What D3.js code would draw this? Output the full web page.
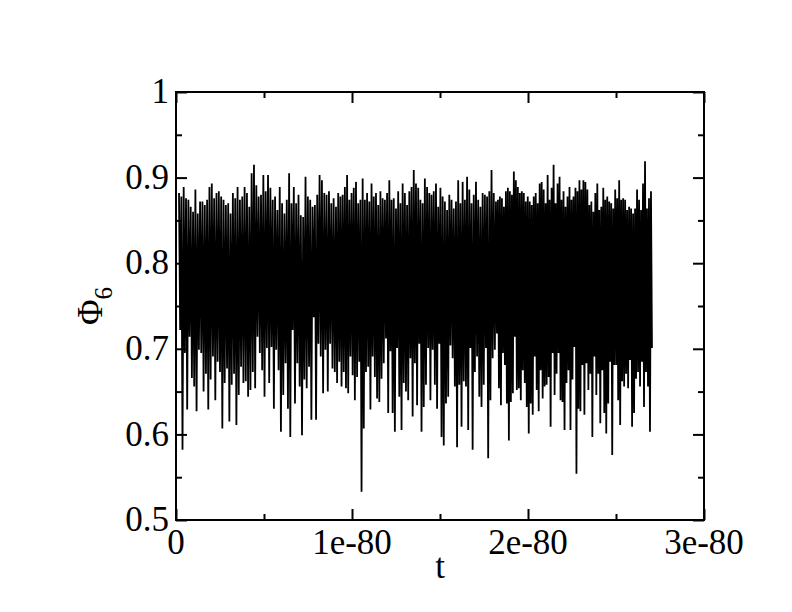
<!DOCTYPE html>
<html>
<head>
<meta charset="utf-8">
<script src="https://cdn.jsdelivr.net/npm/d3@7"></script>
<style>
  body { margin: 0; background: #fff; }
  text { font-family: "Liberation Serif", "Times New Roman", serif; fill: #000; }
</style>
</head>
<body>
<div id="chart"></div>
<script>
// upper spike tips, left to right, in three stretches of t
const peaks1 = [
  0.882, 0.878, 0.889, 0.876, 0.874, 0.866, 0.860, 0.886, 0.858, 0.872,
  0.872, 0.868, 0.874, 0.889, 0.893, 0.876, 0.882, 0.884, 0.878, 0.874, 0.868,
  0.870, 0.858, 0.882, 0.876, 0.889, 0.874, 0.878, 0.889, 0.882, 0.866, 0.905,
  0.915, 0.891, 0.878, 0.880, 0.903, 0.884, 0.903, 0.888, 0.874, 0.878,
  0.862, 0.889, 0.870, 0.858, 0.874, 0.905, 0.870, 0.889, 0.870, 0.880, 0.856,
  0.854, 0.901, 0.878, 0.874, 0.866, 0.868, 0.880, 0.903, 0.897, 0.882,
  0.880, 0.884, 0.870, 0.876
];
const peaks2 = [
  0.866, 0.882, 0.878, 0.880, 0.889, 0.903, 0.874, 0.882, 0.888, 0.895,
  0.870, 0.874, 0.899, 0.874, 0.882, 0.872, 0.893, 0.878, 0.882, 0.868, 0.884,
  0.876, 0.874, 0.882, 0.897, 0.874, 0.876, 0.864, 0.884, 0.870, 0.893, 0.882,
  0.868, 0.884, 0.889, 0.909, 0.893, 0.888, 0.874, 0.870, 0.899, 0.889, 0.882,
  0.880, 0.884, 0.893, 0.866, 0.888, 0.878, 0.872, 0.862, 0.880, 0.874, 0.864,
  0.872, 0.897, 0.870, 0.895, 0.874, 0.901, 0.886, 0.870, 0.880, 0.895, 0.874,
  0.866, 0.882, 0.880, 0.878, 0.884, 0.909, 0.882
];
const peaks3 = [
  0.872, 0.874, 0.878, 0.876, 0.866, 0.884, 0.888, 0.884, 0.880, 0.907,
  0.897, 0.889, 0.882, 0.884, 0.882, 0.872, 0.878, 0.872, 0.868, 0.878,
  0.882, 0.870, 0.893, 0.895, 0.886, 0.870, 0.903, 0.874, 0.888, 0.915,
  0.870, 0.893, 0.901, 0.874, 0.884, 0.866, 0.878, 0.889, 0.874, 0.878, 0.888,
  0.884, 0.897, 0.886, 0.897, 0.895, 0.886, 0.868, 0.872, 0.860, 0.882,
  0.893, 0.862, 0.866, 0.888, 0.874, 0.878, 0.872, 0.870, 0.864, 0.886,
  0.876, 0.897, 0.874, 0.876, 0.874, 0.862, 0.866, 0.864, 0.858, 0.864, 0.886,
  0.874, 0.862, 0.893, 0.919, 0.864, 0.876, 0.884
];

// lower spike tips, same three stretches
const troughs1 = [
  0.722, 0.582, 0.695, 0.629, 0.714, 0.666, 0.656, 0.627, 0.699, 0.695,
  0.650, 0.671, 0.629, 0.664, 0.691, 0.640, 0.685, 0.673, 0.607, 0.660,
  0.677, 0.615, 0.658, 0.671, 0.611, 0.646, 0.679, 0.660, 0.662, 0.644,
  0.652, 0.673, 0.654, 0.714, 0.695, 0.675, 0.644, 0.701, 0.660, 0.702,
  0.630, 0.699, 0.675, 0.603, 0.646, 0.683, 0.630, 0.597, 0.722, 0.636,
  0.683, 0.656, 0.599, 0.664, 0.654, 0.679, 0.617, 0.737, 0.617, 0.706,
  0.691, 0.648, 0.699, 0.650, 0.706, 0.677, 0.673
];
const troughs2 = [
  0.660, 0.685, 0.656, 0.673, 0.654, 0.648, 0.691, 0.669, 0.640, 0.667,
  0.685, 0.533, 0.607, 0.673, 0.679, 0.629, 0.691, 0.667, 0.642, 0.638,
  0.665, 0.683, 0.712, 0.625, 0.697, 0.625, 0.603, 0.701, 0.644, 0.605,
  0.660, 0.650, 0.640, 0.689, 0.621, 0.683, 0.634, 0.706, 0.603, 0.632,
  0.658, 0.701, 0.640, 0.699, 0.658, 0.630, 0.706, 0.597, 0.587, 0.636,
  0.644, 0.704, 0.689, 0.656, 0.585, 0.658, 0.609, 0.662, 0.656, 0.605,
  0.701, 0.582, 0.673, 0.691, 0.644, 0.632, 0.658, 0.701, 0.572, 0.640,
  0.689, 0.699
];
const troughs3 = [
  0.718, 0.654, 0.634, 0.695, 0.681, 0.636, 0.593, 0.638, 0.648, 0.714,
  0.652, 0.654, 0.640, 0.675, 0.660, 0.632, 0.601, 0.636, 0.623, 0.691,
  0.652, 0.627, 0.675, 0.642, 0.656, 0.658, 0.667, 0.609, 0.695, 0.646,
  0.671, 0.695, 0.640, 0.638, 0.605, 0.660, 0.675, 0.605, 0.664, 0.702,
  0.554, 0.630, 0.627, 0.681, 0.623, 0.683, 0.652, 0.671, 0.597, 0.691,
  0.646, 0.671, 0.613, 0.675, 0.625, 0.601, 0.636, 0.685, 0.576, 0.681,
  0.681, 0.640, 0.611, 0.662, 0.656, 0.671, 0.654, 0.687, 0.609, 0.625,
  0.665, 0.673, 0.656, 0.685, 0.632, 0.673, 0.656, 0.603, 0.701
];

// t at the edges of the three stretches
const tBreaks = [0.017e-80, 0.909e-80, 1.818e-80, 2.71e-80];

const xTicks = [0, 1e-80, 2e-80, 3e-80];
const xTickLabels = ["0", "1e-80", "2e-80", "3e-80"];
const xMinor = [0.5e-80, 1.5e-80, 2.5e-80];
const yTicks = [0.5, 0.6, 0.7, 0.8, 0.9, 1];
const yTickLabels = ["0.5", "0.6", "0.7", "0.8", "0.9", "1"];
const yMinor = [0.55, 0.65, 0.75, 0.85, 0.95];

const margin = {top: 92, right: 88, bottom: 92, left: 176};
const width = 792 - margin.left - margin.right;
const height = 612 - margin.top - margin.bottom;

// alternate peak / trough within each stretch, evenly spaced in t
function stretch(hi, lo, t0, t1) {
  const n = hi.length;
  const step = (t1 - t0) / (2 * n);
  const out = [];
  for (let i = 0; i < n; i++) {
    out.push({t: t0 + 2 * i * step, v: hi[i]});
    out.push({t: t0 + (2 * i + 1) * step, v: lo[i]});
  }
  return out;
}
const series = [].concat(
  stretch(peaks1, troughs1, tBreaks[0], tBreaks[1]),
  stretch(peaks2, troughs2, tBreaks[1], tBreaks[2]),
  stretch(peaks3, troughs3, tBreaks[2], tBreaks[3])
);

const svg = d3.select("#chart")
  .append("svg")
  .attr("width", 792)
  .attr("height", 612)
  .append("g")
  .attr("transform", `translate(${margin.left}, ${margin.top})`);

const x = d3.scaleLinear().domain([0, 3e-80]).range([0, width]);
const y = d3.scaleLinear().domain([0.5, 1]).range([height, 0]);

// data line
svg.append("path")
  .datum(series)
  .attr("fill", "none")
  .attr("stroke", "#000")
  .attr("stroke-width", 1.8)
  .attr("stroke-linejoin", "bevel")
  .attr("d", d3.line().x(d => x(d.t)).y(d => y(d.v)));

// ticks, all pointing inward
function ticks(axis, values, size, translate) {
  const g = svg.append("g")
    .attr("transform", translate)
    .call(axis.tickValues(values).tickSize(-size).tickFormat(""));
  g.select(".domain").remove();
  g.selectAll("line").attr("stroke", "#000").attr("stroke-width", 2);
  return g;
}
ticks(d3.axisBottom(x), xTicks, 11, `translate(0, ${height})`);
ticks(d3.axisBottom(x), xMinor, 6, `translate(0, ${height})`);
ticks(d3.axisTop(x), xTicks, 11, "translate(0, 0)");
ticks(d3.axisTop(x), xMinor, 6, "translate(0, 0)");
ticks(d3.axisLeft(y), yTicks, 11, "translate(0, 0)");
ticks(d3.axisLeft(y), yMinor, 6, "translate(0, 0)");
ticks(d3.axisRight(y), yTicks, 11, `translate(${width}, 0)`);
ticks(d3.axisRight(y), yMinor, 6, `translate(${width}, 0)`);

// frame
svg.append("rect")
  .attr("width", width)
  .attr("height", height)
  .attr("fill", "none")
  .attr("stroke", "#000")
  .attr("stroke-width", 2);

// tick labels
svg.append("g")
  .selectAll("text")
  .data(xTicks)
  .join("text")
    .attr("x", d => x(d))
    .attr("y", height + 34)
    .attr("text-anchor", "middle")
    .attr("font-size", 35)
    .text((d, i) => xTickLabels[i]);

svg.append("g")
  .selectAll("text")
  .data(yTicks)
  .join("text")
    .attr("x", -7)
    .attr("y", d => y(d))
    .attr("dy", "0.32em")
    .attr("text-anchor", "end")
    .attr("font-size", 35)
    .text((d, i) => yTickLabels[i]);

// axis titles
svg.append("text")
  .attr("x", width / 2)
  .attr("y", height + 58)
  .attr("text-anchor", "middle")
  .attr("font-size", 35)
  .text("t");

const yTitle = svg.append("text")
  .attr("transform", `translate(${-74}, ${height / 2}) rotate(-90)`)
  .attr("text-anchor", "middle")
  .attr("font-size", 35);
yTitle.append("tspan").text("Φ");
yTitle.append("tspan").attr("dy", 10).attr("font-size", 25).text("6");
</script>
</body>
</html>
